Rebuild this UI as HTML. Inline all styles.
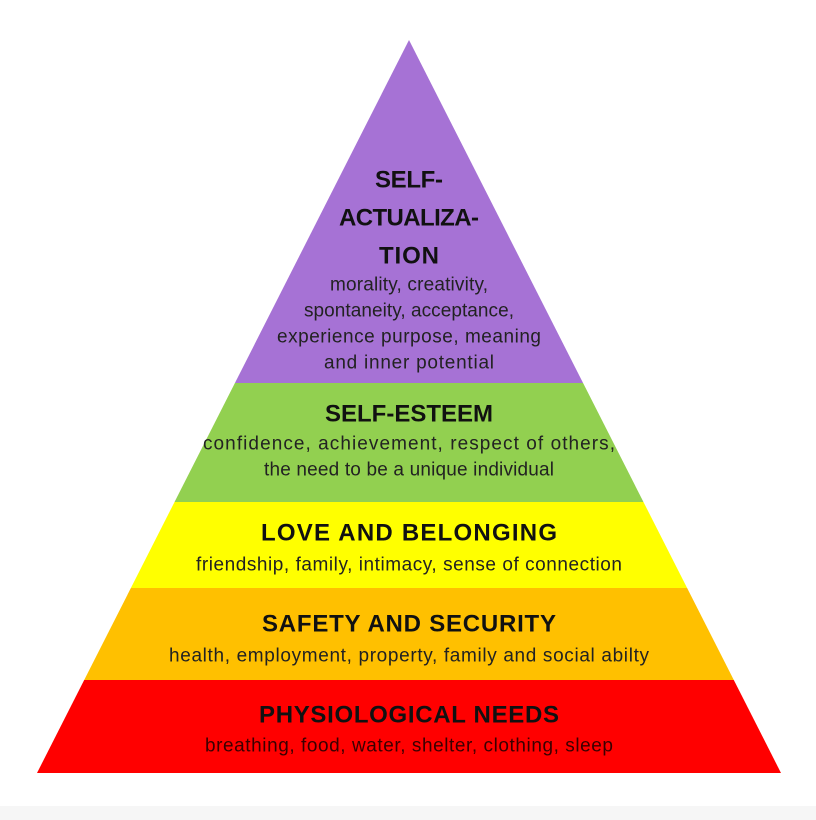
<!DOCTYPE html>
<html><head><meta charset="utf-8"><style>
html,body{margin:0;padding:0;background:#fff}
svg{display:block}
text{font-family:"Liberation Sans",sans-serif;text-anchor:middle;dominant-baseline:central;fill:#111}
.t{font-size:24px;font-weight:bold}
.s{font-size:19px;fill:#222}
</style></head><body>
<svg width="816" height="820" viewBox="0 0 816 820">
<rect x="0" y="806" width="816" height="14" fill="#f6f6f6"/>
<defs><clipPath id="p"><polygon points="409,40 37,773 781,773"/></clipPath></defs>
<g clip-path="url(#p)">
<rect x="0" y="0" width="816" height="383" fill="#a672d5"/>
<rect x="0" y="383" width="816" height="119" fill="#92d050"/>
<rect x="0" y="502" width="816" height="86" fill="#ffff00"/>
<rect x="0" y="588" width="816" height="92" fill="#ffc000"/>
<rect x="0" y="680" width="816" height="93" fill="#ff0000"/>
</g>
<text class="t" x="409" y="180" textLength="68">SELF-</text>
<text class="t" x="409" y="218" textLength="140">ACTUALIZA-</text>
<text class="t" x="409" y="256" textLength="60">TION</text>
<text class="s" x="409" y="285" textLength="158">morality, creativity,</text>
<text class="s" x="409" y="311" textLength="210">spontaneity, acceptance,</text>
<text class="s" x="409" y="337" textLength="264">experience purpose, meaning</text>
<text class="s" x="409" y="363" textLength="170">and inner potential</text>
<text class="t" x="409" y="414" textLength="168">SELF-ESTEEM</text>
<text class="s" x="409" y="444" textLength="412">confidence, achievement, respect of others,</text>
<text class="s" x="409" y="470" textLength="290">the need to be a unique individual</text>
<text class="t" x="409" y="533" textLength="296">LOVE AND BELONGING</text>
<text class="s" x="409" y="565" textLength="426">friendship, family, intimacy, sense of connection</text>
<text class="t" x="409" y="624" textLength="294">SAFETY AND SECURITY</text>
<text class="s" x="409" y="656" textLength="480">health, employment, property, family and social abilty</text>
<text class="t" x="409" y="715" textLength="300">PHYSIOLOGICAL NEEDS</text>
<text class="s" x="409" y="746" textLength="408" style="fill:#3a0000">breathing, food, water, shelter, clothing, sleep</text>
</svg>
</body></html>
